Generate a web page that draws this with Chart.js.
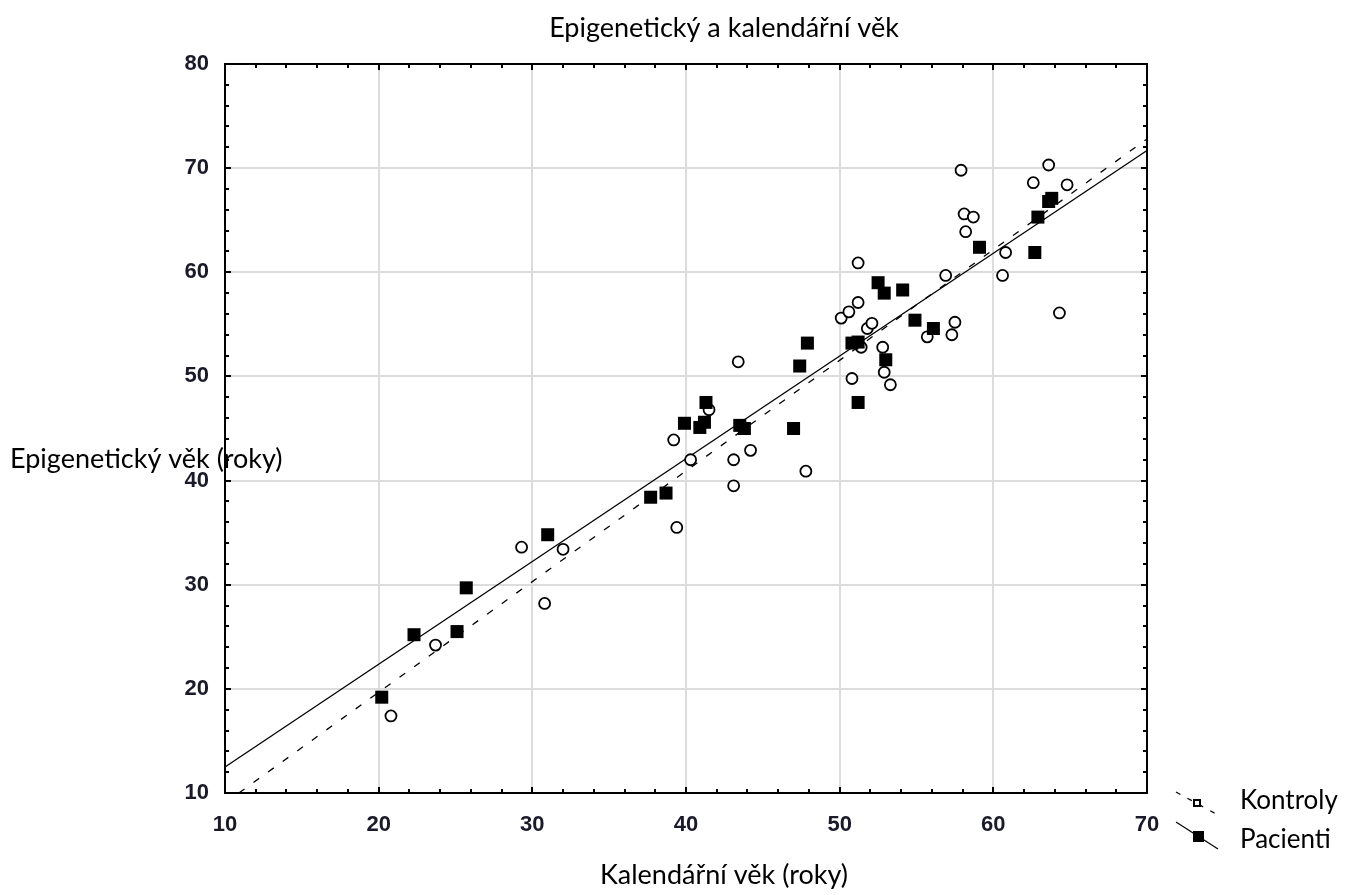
<!DOCTYPE html>
<html>
<head>
<meta charset="utf-8">
<script src="https://cdn.jsdelivr.net/npm/chart.js@4.4.1/dist/chart.umd.min.js"></script>
<style>
  html, body { margin: 0; padding: 0; background: #fff; }
  #chart { display: block; }
</style>
</head>
<body>
<canvas id="chart" width="1354" height="895"></canvas>
<script>
var kontrolyX = [20.8, 23.7, 29.3, 30.8, 32.0, 39.4, 39.2, 40.3, 41.5, 43.1, 43.1, 43.4, 44.2, 47.8,
  50.1, 50.6, 51.2, 51.2, 51.4, 50.8, 51.8, 52.1, 52.8, 52.9, 53.3, 55.7, 57.3, 57.5, 56.9,
  57.9, 58.1, 58.7, 58.2, 60.6, 60.8, 62.6, 63.6, 64.8, 64.3];
var kontrolyY = [17.4, 24.2, 33.6, 28.2, 33.4, 35.5, 43.9, 42.0, 46.8, 42.0, 39.5, 51.4, 42.9, 40.9,
  55.6, 56.2, 57.1, 60.9, 52.8, 49.8, 54.6, 55.1, 52.8, 50.4, 49.2, 53.8, 54.0, 55.2, 59.7,
  69.8, 65.6, 65.3, 63.9, 59.7, 61.9, 68.6, 70.3, 68.4, 56.1];

var pacientiX = [20.2, 22.3, 25.1, 25.7, 31.0, 37.7, 38.7, 39.9, 40.9, 41.2, 41.3, 43.5, 43.8, 47.0,
  47.4, 47.9, 50.8, 51.2, 51.2, 52.5, 52.9, 53.0, 54.1, 54.9, 56.1, 59.1, 62.7, 62.9, 63.6, 63.8];
var pacientiY = [19.2, 25.2, 25.5, 29.7, 34.8, 38.4, 38.8, 45.5, 45.1, 45.6, 47.5, 45.3, 45.0, 45.0,
  51.0, 53.2, 53.2, 53.3, 47.5, 59.0, 58.0, 51.6, 58.3, 55.4, 54.6, 62.4, 61.9, 65.3, 66.8, 67.1];

// fitted lines (end points as drawn)
var kontrolyFitX = [10.9, 70];
var kontrolyFitY = [10.0, 72.8];
var pacientiFitX = [10, 70];
var pacientiFitY = [12.5, 71.7];

var xTicks = [10, 20, 30, 40, 50, 60, 70];
var yTicks = [10, 20, 30, 40, 50, 60, 70, 80];

var titleText = "Epigenetický a kalendářní věk";
var xTitleText = "Kalendářní věk (roky)";
var yTitleText = "Epigenetický věk (roky)";
var seriesNames = ["Kontroly", "Pacienti"];

function pairs(xs, ys) {
  return xs.map(function (x, i) { return { x: x, y: ys[i] }; });
}

var TEXT_FONT = "27px Lato, 'Open Sans', sans-serif";
var LEGEND_FONT = "26px Lato, 'Open Sans', sans-serif";

// ——— frame, inner ticks, titles and legend ———
var decor = {
  id: "decor",
  afterDraw: function (chart) {
    var ctx = chart.ctx;
    var a = chart.chartArea;
    var xs = chart.scales.x, ys = chart.scales.y;
    ctx.save();

    // inner tick marks on all four sides
    ctx.strokeStyle = "#000";
    ctx.lineWidth = 2;
    ctx.beginPath();
    for (var v = xTicks[0]; v <= xTicks[xTicks.length - 1]; v += 2) {
      var px = Math.round(xs.getPixelForValue(v));
      var len = v % 10 === 0 ? 6 : 4;
      ctx.moveTo(px, a.bottom); ctx.lineTo(px, a.bottom - len);
      ctx.moveTo(px, a.top); ctx.lineTo(px, a.top + len);
    }
    for (var w = yTicks[0]; w <= yTicks[yTicks.length - 1]; w += 2) {
      var py = Math.round(ys.getPixelForValue(w));
      var l2 = w % 10 === 0 ? 6 : 4;
      ctx.moveTo(a.left, py); ctx.lineTo(a.left + l2, py);
      ctx.moveTo(a.right, py); ctx.lineTo(a.right - l2, py);
    }
    ctx.stroke();

    // frame
    ctx.lineWidth = 2;
    ctx.strokeRect(a.left, a.top, a.right - a.left, a.bottom - a.top);

    // titles
    ctx.fillStyle = "#000";
    ctx.font = TEXT_FONT;
    ctx.textBaseline = "alphabetic";
    ctx.textAlign = "center";
    ctx.fillText(titleText, 724, 37);
    ctx.fillText(xTitleText, 724, 884);
    ctx.textAlign = "left";
    ctx.fillText(yTitleText, 10, 468);

    // legend
    ctx.font = LEGEND_FONT;
    ctx.fillText(seriesNames[0], 1240, 809);
    ctx.fillText(seriesNames[1], 1240, 848);

    ctx.strokeStyle = "#000";
    ctx.lineWidth = 1.2;
    ctx.setLineDash([5, 8]);
    ctx.beginPath();
    ctx.moveTo(1176, 792); ctx.lineTo(1218, 815);
    ctx.stroke();
    ctx.setLineDash([]);
    ctx.fillStyle = "#fff";
    ctx.fillRect(1193, 799, 8, 8);
    ctx.lineWidth = 2;
    ctx.strokeRect(1194, 800, 6, 6);

    ctx.lineWidth = 1.2;
    ctx.beginPath();
    ctx.moveTo(1176, 822); ctx.lineTo(1218, 849);
    ctx.stroke();
    ctx.fillStyle = "#000";
    ctx.fillRect(1193, 831, 11, 11);

    ctx.restore();
  }
};

var tickFont = { family: "'Liberation Sans', Arial, sans-serif", size: 22, weight: "bold" };

new Chart(document.getElementById("chart"), {
  type: "scatter",
  data: {
    datasets: [
      {
        label: seriesNames[1] + " fit",
        type: "line",
        data: pairs(pacientiFitX, pacientiFitY),
        borderColor: "#000",
        borderWidth: 1.3,
        pointRadius: 0,
        fill: false,
        order: 3
      },
      {
        label: seriesNames[0] + " fit",
        type: "line",
        data: pairs(kontrolyFitX, kontrolyFitY),
        borderColor: "#000",
        borderWidth: 1.3,
        borderDash: [7, 11],
        pointRadius: 0,
        fill: false,
        order: 3
      },
      {
        label: seriesNames[0],
        data: pairs(kontrolyX, kontrolyY),
        pointStyle: "circle",
        pointRadius: 5.5,
        borderWidth: 1.8,
        borderColor: "#000",
        backgroundColor: "#fff",
        order: 2
      },
      {
        label: seriesNames[1],
        data: pairs(pacientiX, pacientiY),
        pointStyle: "rect",
        pointRadius: 9.2,
        borderWidth: 0,
        borderColor: "#000",
        backgroundColor: "#000",
        order: 1
      }
    ]
  },
  options: {
    responsive: false,
    animation: false,
    layout: { padding: { top: 64, right: 207, left: 0, bottom: 0 } },
    plugins: {
      legend: { display: false },
      tooltip: { enabled: false },
      title: { display: false }
    },
    scales: {
      x: {
        type: "linear",
        min: xTicks[0],
        max: xTicks[xTicks.length - 1],
        afterBuildTicks: function (s) { s.ticks = xTicks.map(function (v) { return { value: v }; }); },
        afterFit: function (s) { s.height = 102; },
        ticks: { font: tickFont, color: "#1a1a2a", padding: 19 },
        grid: { color: "#dcdcdc", lineWidth: 2, drawTicks: false },
        border: { display: false }
      },
      y: {
        type: "linear",
        min: yTicks[0],
        max: yTicks[yTicks.length - 1],
        afterBuildTicks: function (s) { s.ticks = yTicks.map(function (v) { return { value: v }; }); },
        afterFit: function (s) { s.width = 225; },
        ticks: { font: tickFont, color: "#1a1a2a", padding: 16 },
        grid: { color: "#dcdcdc", lineWidth: 2, drawTicks: false },
        border: { display: false }
      }
    }
  },
  plugins: [decor]
});
</script>
</body>
</html>
